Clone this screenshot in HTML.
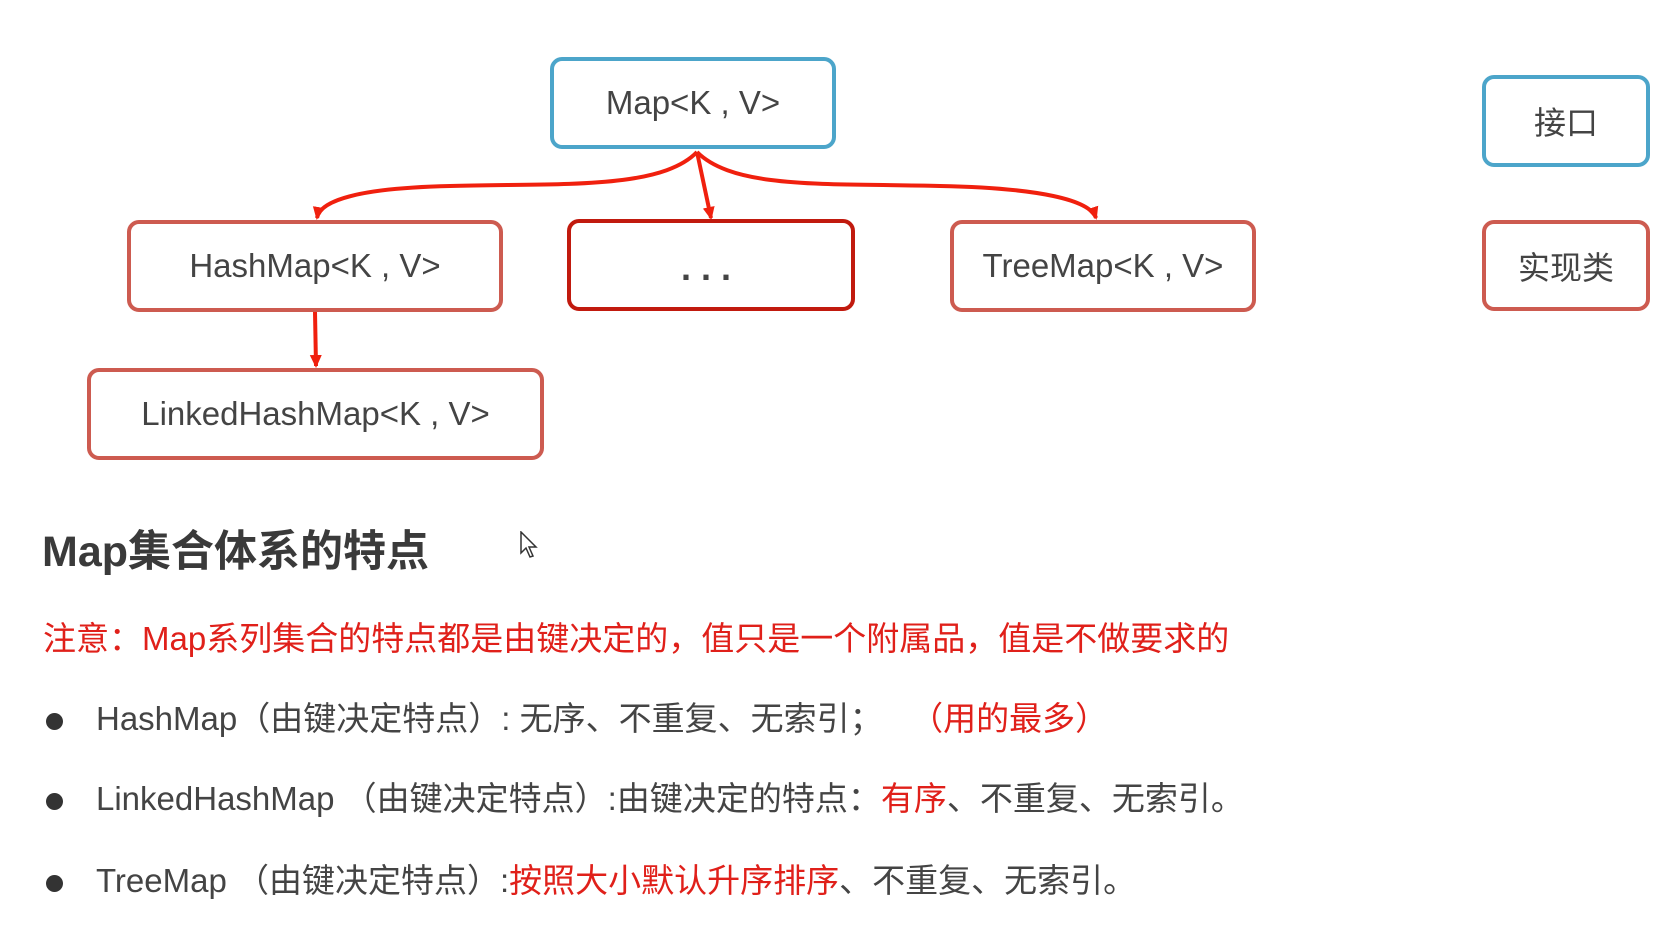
<!DOCTYPE html>
<html><head><meta charset="utf-8"><style>
body{margin:0;width:1676px;height:933px;background:#fff;position:relative;overflow:hidden;font-family:"Liberation Sans","Noto Sans CJK SC",sans-serif;color:#444}
.b{position:absolute;box-sizing:border-box;border:4px solid #cd5b50;border-radius:12px;display:flex;align-items:center;justify-content:center;font-size:33px;background:#fff}
.blue{border-color:#4ca5ca}
.t{position:absolute;white-space:nowrap}
.r{color:#e0201a}
.dot{position:absolute;width:17px;height:17px;border-radius:50%;background:#333}
</style></head><body>
<svg width="1676" height="933" style="position:absolute;left:0;top:0">
<defs><marker id="a" markerWidth="14" markerHeight="14" refX="11" refY="7" orient="auto" markerUnits="userSpaceOnUse"><path d="M0,1 L13,7 L0,13z" fill="#f0200e"/></marker></defs>
<g stroke="#f0200e" stroke-width="4" fill="none">
<path d="M697,152 C660,190 560,183 450,186 C360,188 320,200 317,218" marker-end="url(#a)"/>
<path d="M697,152 L711,218" marker-end="url(#a)"/>
<path d="M697,152 C735,190 830,183 940,186 C1040,188 1090,200 1096,218" marker-end="url(#a)"/>
<path d="M315,312 L316,366" marker-end="url(#a)"/>
</g></svg>
<div class="b blue" style="left:550px;top:57px;width:286px;height:92px">Map&lt;K , V&gt;</div>
<div class="b" style="left:127px;top:220px;width:376px;height:92px">HashMap&lt;K , V&gt;</div>
<div class="b" style="left:567px;top:219px;width:288px;height:92px;border-color:#c11a0e"><span style="letter-spacing:10px;font-size:36px;margin-top:6px;font-weight:bold">...</span></div>
<div class="b" style="left:950px;top:220px;width:306px;height:92px">TreeMap&lt;K , V&gt;</div>
<div class="b" style="left:87px;top:368px;width:457px;height:92px">LinkedHashMap&lt;K , V&gt;</div>
<div class="b blue" style="left:1482px;top:75px;width:168px;height:92px;font-size:32px">接口</div>
<div class="b" style="left:1482px;top:220px;width:168px;height:91px;font-size:32px">实现类</div>
<div class="t" style="left:42px;top:517px;font-size:43px;font-weight:bold;color:#3a3a3a">Map集合体系的特点</div>
<svg style="position:absolute;left:520px;top:531px" width="20" height="28"><path d="M1,1 L1,22 L6,17 L10,26 L13,25 L9,16 L16,16 Z" fill="#fff" stroke="#333" stroke-width="1.5"/></svg>
<div class="t r" style="left:43px;top:612px;font-size:33px">注意：Map系列集合的特点都是由键决定的，值只是一个附属品，值是不做要求的</div>
<div class="dot" style="left:46px;top:713px"></div>
<div class="t" style="left:96px;top:692px;font-size:33px">HashMap（由键决定特点）: 无序、不重复、无索引；&nbsp;&nbsp;&nbsp;<span class="r">（用的最多）</span></div>
<div class="dot" style="left:46px;top:793px"></div>
<div class="t" style="left:96px;top:772px;font-size:33px">LinkedHashMap （由键决定特点）:由键决定的特点：<span class="r">有序</span>、不重复、无索引。</div>
<div class="dot" style="left:46px;top:875px"></div>
<div class="t" style="left:96px;top:854px;font-size:33px">TreeMap （由键决定特点）:<span class="r">按照大小默认升序排序</span>、不重复、无索引。</div>
</body></html>
